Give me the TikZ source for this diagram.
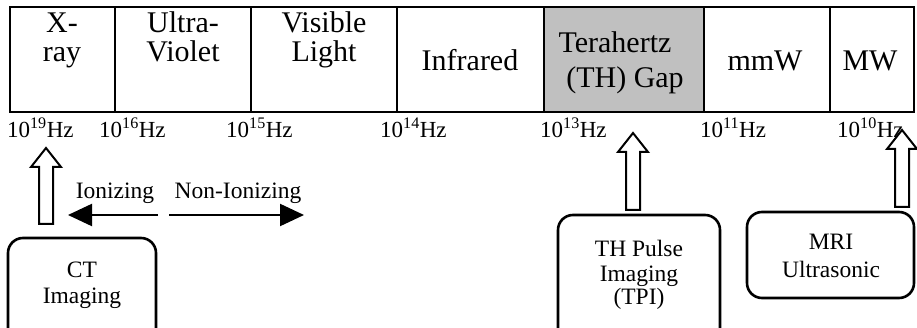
\documentclass[tikz,border=0pt]{standalone}
\usepackage{fontspec}
\setmainfont{Liberation Serif}
\usetikzlibrary{arrows.meta}
\definecolor{thgray}{RGB}{192,192,192}
\tikzset{
  x=1pt, y=-1pt,
  cell/.style={draw, line width=2.8pt, inner sep=0pt},
  toptxt/.style={anchor=base, inner sep=0pt, font=\fontsize{30}{32}\selectfont},
  freq/.style={anchor=base west, inner sep=0pt, font=\fontsize{23}{26}\selectfont},
  boxtxt/.style={anchor=base, inner sep=0pt, font=\fontsize{23.5}{26}\selectfont},
  modbox/.style={draw, line width=2.6pt, rounded corners=15pt},
  blockarrow/.style={draw, line width=2pt, fill=white, line join=miter},
  ionarrow/.style={line width=2.2pt, -{Triangle[length=24pt,width=22pt]}},
}
\newcommand\upblock[3]{\draw[blockarrow] (#1-7,#3) -- (#1-7,#2+19) -- (#1-15,#2+19) -- (#1,#2) -- (#1+15,#2+19) -- (#1+7,#2+19) -- (#1+7,#3) -- cycle;}
\begin{document}
\begin{tikzpicture}
\useasboundingbox (0,0) rectangle (917,328);
\clip (0,0) rectangle (917,328);
% spectrum cells
\draw[cell] (10,7) rectangle (115,112);
\draw[cell] (115,7) rectangle (251,112);
\draw[cell] (251,7) rectangle (397,112);
\draw[cell] (397,7) rectangle (544,112);
\draw[cell, fill=thgray] (544,7) rectangle (704,112);
\draw[cell] (704,7) rectangle (830,112);
\draw[cell] (830,7) rectangle (914,112);
% cell labels
\node[toptxt] (xr1) at (62,33) {X-};
\node[toptxt] (xr2) at (62,62) {ray};
\node[toptxt] (uv1) at (183,33) {Ultra-};
\node[toptxt] (uv2) at (183,62) {Violet};
\node[toptxt] (vl1) at (324,33) {Visible};
\node[toptxt] (vl2) at (324,62) {Light};
\node[toptxt] (ir) at (470,71) {Infrared};
\node[toptxt] (th1) at (615,53) {Terahertz};
\node[toptxt] (th2) at (625,88) {(TH) Gap};
\node[toptxt] (mm) at (765,71) {mmW};
\node[toptxt] (mw) at (870,71) {MW};
% frequency labels
\node[freq] (f19) at (7,138) {10\textsuperscript{19}Hz};
\node[freq] (f16) at (99,138) {10\textsuperscript{16}Hz};
\node[freq] (f15) at (226,138) {10\textsuperscript{15}Hz};
\node[freq] (f14) at (380,138) {10\textsuperscript{14}Hz};
\node[freq] (f13) at (540,138) {10\textsuperscript{13}Hz};
\node[freq] (f11) at (700,138) {10\textsuperscript{11}Hz};
\node[freq] (f10) at (837,138) {10\textsuperscript{10}Hz};
% ionizing arrows
\node[boxtxt] (ion) at (115,199) {Ionizing};
\node[boxtxt] (nonion) at (238,199) {Non-Ionizing};
\coordinate (ionS) at (158,215);
\coordinate (ionE) at (68,215);
\coordinate (nonS) at (169,215);
\coordinate (nonE) at (304,215);
\draw[ionarrow] (ionS) -- (ionE);
\draw[ionarrow] (nonS) -- (nonE);
% modality boxes
\draw[modbox] (8,238) rectangle (156,345);
\node[boxtxt] (ct1) at (82,278) {CT};
\node[boxtxt] (ct2) at (82,303) {Imaging};
\draw[modbox] (558,215) rectangle (720,345);
\node[boxtxt] (tp1) at (639,257) {TH Pulse};
\node[boxtxt] (tp2) at (639,281) {Imaging};
\node[boxtxt] (tp3) at (639,304) {(TPI)};
\draw[modbox] (747,212) rectangle (914,298);
\node[boxtxt] (mr1) at (831,250) {MRI};
\node[boxtxt] (mr2) at (831,277) {Ultrasonic};
% block arrows
\upblock{46}{148}{224}
\upblock{633}{133}{210}
\upblock{902}{130}{207}
\end{tikzpicture}
\end{document}
